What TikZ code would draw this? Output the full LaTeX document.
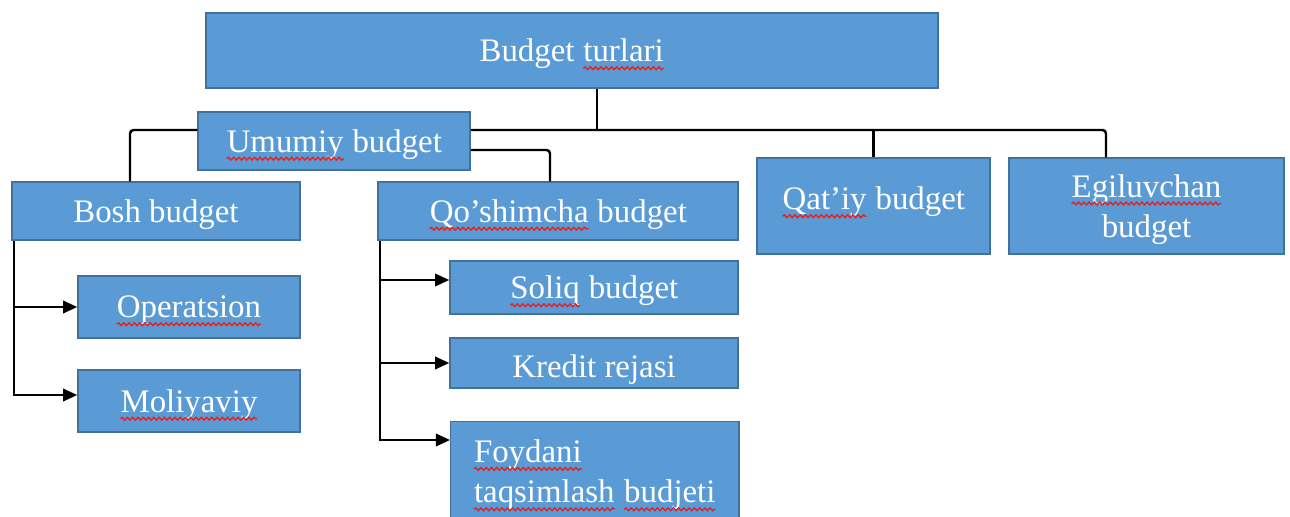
\documentclass[tikz,border=0pt]{standalone}
\usepackage{fontspec}
\setmainfont{Liberation Serif}
\usetikzlibrary{arrows.meta, decorations.pathmorphing}
\definecolor{boxfill}{HTML}{5B9BD5}
\definecolor{boxline}{HTML}{41719C}
\definecolor{spellred}{HTML}{E02424}
\newcommand{\sq}[1]{\tikz[baseline=(sqw.base)]{\node[inner sep=0pt, outer sep=0pt, minimum width=0pt, minimum height=0pt, text width={}, text height={}, text depth={}, draw=none, fill=none, anchor=base] (sqw) {#1};
  \draw[spellred, line width=0.8pt, decorate, decoration={snake, amplitude=0.8pt, segment length=3pt}] ([yshift=-3.6pt]sqw.base west) -- ([yshift=-3.6pt]sqw.base east);}}

\begin{document}
\begin{tikzpicture}[
  box/.style={draw=boxline, line width=0.85pt, fill=boxfill, text=white, font=\fontsize{18.7}{23}\selectfont, inner sep=0pt, align=center, text depth=0pt},
  link/.style={line width=1.4pt, black},
  arrowlink/.style={-{Triangle[length=8pt, width=7pt]}}
]
  \useasboundingbox (0,0) rectangle (25.8,-10.34);

  \node[box, minimum width=14.64cm, minimum height=1.5cm] (turlari) at (11.44,-1.01) {Budget \sq{turlari}};
  \node[box, minimum width=5.44cm, minimum height=1.16cm] (umumiy) at (6.68,-2.82) {\sq{Umumiy} budget};
  \node[box, minimum width=5.76cm, minimum height=1.16cm] (bosh) at (3.12,-4.22) {Bosh budget};
  \node[box, minimum width=7.2cm, minimum height=1.16cm] (qoshimcha) at (11.16,-4.22) {\sq{Qo’shimcha} budget};
  \node[box, minimum width=4.66cm, minimum height=1.92cm, text depth=0.3cm] (qatiy) at (17.47,-4.12) {\sq{Qat’iy} budget};
  \node[box, minimum width=5.5cm, minimum height=1.92cm] (egiluvchan) at (22.93,-4.12) {\sq{Egiluvchan}\\budget};
  \node[box, minimum width=4.44cm, minimum height=1.24cm] (operatsion) at (3.78,-6.14) {\sq{Operatsion}};
  \node[box, minimum width=4.44cm, minimum height=1.24cm] (moliyaviy) at (3.78,-8.02) {\sq{Moliyaviy}};
  \node[box, minimum width=5.76cm, minimum height=1.06cm] (soliq) at (11.88,-5.75) {\sq{Soliq} budget};
  \node[box, minimum width=5.76cm, minimum height=1.0cm, text height=17pt] (kredit) at (11.88,-7.26) {Kredit rejasi};
  \node[box, anchor=north west, minimum width=5.76cm, inner xsep=0.4cm, inner ysep=0.36cm, align=left, text depth=2cm] (foydani) at (9.0,-8.42) {\sq{Foydani}\\\sq{taqsimlash} \sq{budjeti}};

  \coordinate (stem) at (11.94,-2.6);
  \coordinate (busL) at (2.6,-2.6);
  \coordinate (busR) at (22.12,-2.6);
  \coordinate (qk) at (11.0,-3.0);
  \coordinate (bt) at (0.28,-4.8);
  \coordinate (qt) at (7.6,-4.8);
  \coordinate (moliyaviyin) at ([yshift=0.12cm]moliyaviy.west);
  \coordinate (soliqin) at ([yshift=0.15cm]soliq.west);
  \coordinate (foydaniin) at ([yshift=-0.38cm]foydani.north west);

  \draw[link] (stem |- turlari.south) -- (stem);
  \draw[link, rounded corners=2pt] (umumiy.west |- busL) -- (busL) -- (busL |- bosh.north);
  \draw[link, rounded corners=2pt] (umumiy.east |- busR) -- (busR) -- (busR |- egiluvchan.north);
  \draw[link] (qatiy.north |- busL) -- (qatiy.north);
  \draw[link, rounded corners=2pt] (umumiy.east |- qk) -- (qk) -- (qk |- qoshimcha.north);

  \draw[link, arrowlink] (bt |- bosh.south) |- (moliyaviyin);
  \draw[link, arrowlink] (bt |- operatsion.west) -- (operatsion.west);

  \draw[link, arrowlink] (qt |- qoshimcha.south) |- (foydaniin);
  \draw[link, arrowlink] (qt |- soliqin) -- (soliqin);
  \draw[link, arrowlink] (qt |- kredit.west) -- (kredit.west);
\end{tikzpicture}
\end{document}
